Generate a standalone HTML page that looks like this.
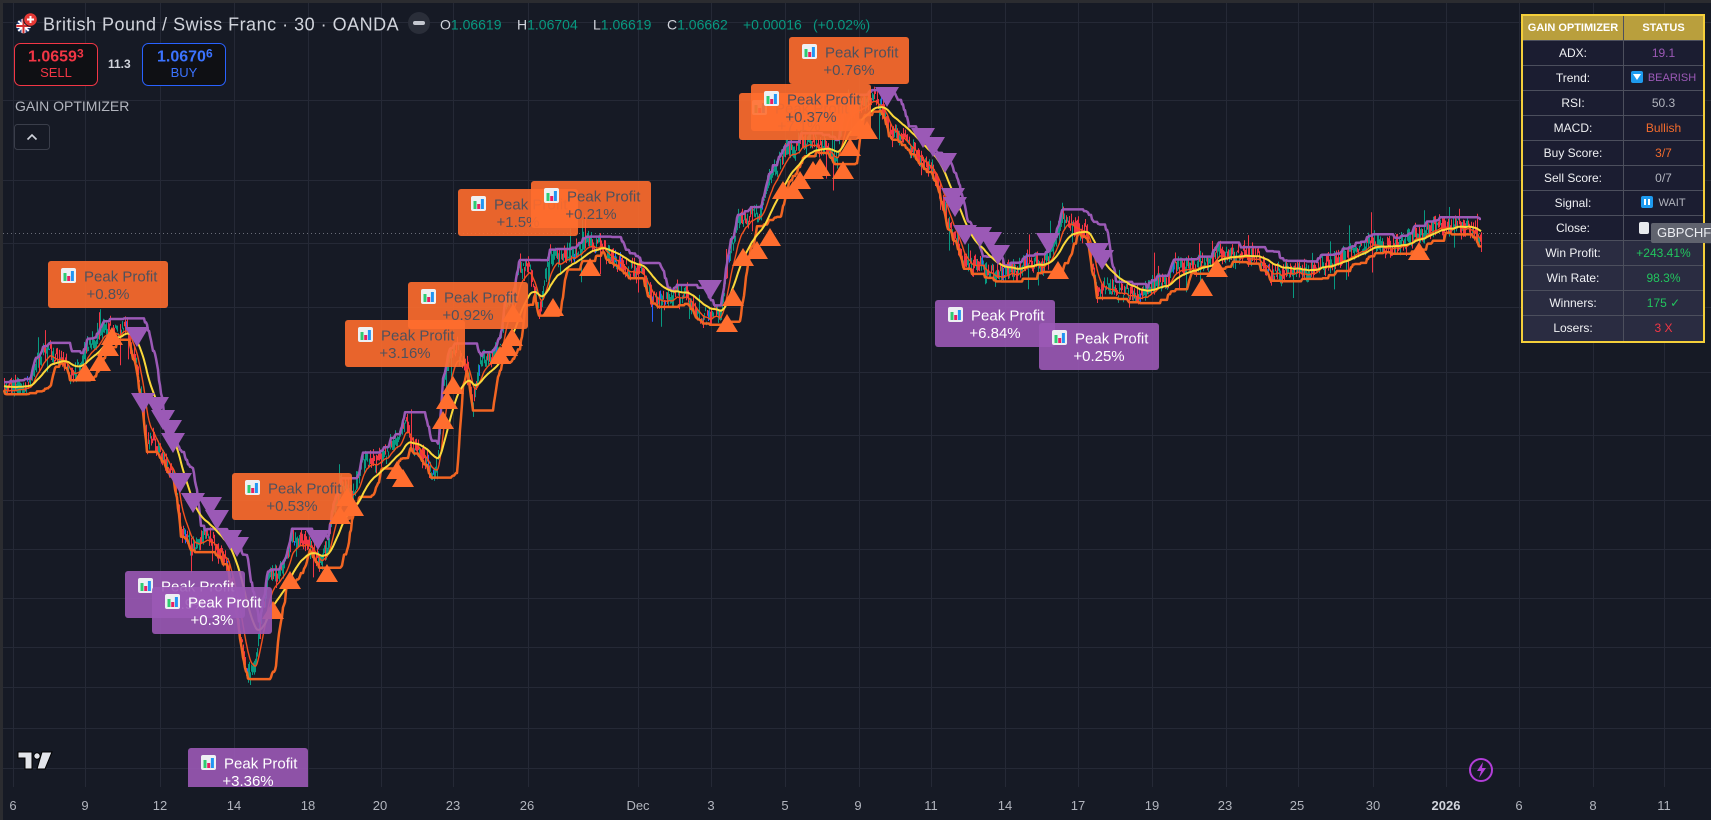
<!DOCTYPE html>
<html><head><meta charset="utf-8">
<style>
html,body{margin:0;padding:0;background:#161a25;width:1711px;height:820px;overflow:hidden;font-family:"Liberation Sans",Arial,sans-serif;}
svg{position:absolute;left:0;top:0}
#tb{position:absolute;left:1521px;top:14px;width:184px;height:329px;box-sizing:border-box;border:2px solid #f4cf3a;background:#1b1d31;overflow:hidden}
.c{position:absolute;height:25px;line-height:25px;text-align:center;font-size:12px;color:#f0f1f4;box-sizing:border-box;border-bottom:1px solid #4c4f5d;white-space:nowrap}
.l{left:0;width:101px;border-right:1px solid #4c4f5d}
.r{left:101px;width:79px}
.h{background:#b99f3d;color:#fff;font-weight:bold;font-size:11px}
.w{background:#2a2c41}
.ic{display:inline-block;width:12px;height:12px;border-radius:2px;background:#1e9bf0;vertical-align:-2px;margin-right:5px;position:relative}
#tag{position:absolute;left:1651px;top:223px;width:62px;height:20px;background:#60636e;border-radius:2px;color:#eceef2;font-size:13px;line-height:20px;padding-left:6px;box-sizing:border-box;white-space:nowrap;overflow:hidden}
</style></head>
<body>
<svg width="1711" height="820" viewBox="0 0 1711 820" font-family="Liberation Sans, Arial, sans-serif">
<defs>
<clipPath id="pane"><rect x="3" y="3" width="1708" height="784"/></clipPath>
<clipPath id="ukc"><circle cx="23.5" cy="26" r="7.3"/></clipPath>
<g id="ic">
<rect x="0" y="0" width="15" height="15" rx="2" fill="#eef0f3"/>
<rect x="2.5" y="5" width="3" height="8" fill="#2ecc71"/>
<rect x="6.2" y="8" width="3" height="5" fill="#e91e63"/>
<rect x="9.9" y="3" width="3" height="10" fill="#2196f3"/>
</g>
</defs>
<rect x="0" y="0" width="1711" height="820" fill="#161a25"/>
<g stroke="#252936" stroke-width="1">
<path d="M13.5 3V787M85.5 3V787M160.5 3V787M234.5 3V787M308.5 3V787M381.5 3V787M453.5 3V787M528.5 3V787M638.5 3V787M711.5 3V787M785.5 3V787M859.5 3V787M931.5 3V787M1005.5 3V787M1078.5 3V787M1152.5 3V787M1226.5 3V787M1298.5 3V787M1373.5 3V787M1446.5 3V787M1519.5 3V787M1593.5 3V787M1664.5 3V787"/>
<path d="M3 22.5H1711M3 100.5H1711M3 180.5H1711M3 243.5H1711M3 307.5H1711M3 372.5H1711M3 435.5H1711M3 500.5H1711M3 549.5H1711M3 598.5H1711M3 647.5H1711M3 687.5H1711M3 728.5H1711M3 768.5H1711"/>
</g>
<rect x="0" y="0" width="1711" height="3" fill="#2b2c30"/>
<rect x="0" y="0" width="3" height="820" fill="#2b2c30"/>
<line x1="3" y1="233.5" x2="1651" y2="233.5" stroke="#6a6d78" stroke-width="1" stroke-dasharray="1,3"/>
<g id="cd" clip-path="url(#pane)"></g>
<g id="tr" clip-path="url(#pane)"></g>
<g clip-path="url(#pane)" font-size="15">
<g transform="translate(48,261)"><rect width="120" height="47" rx="3" fill="#ff6d2e" fill-opacity=".9"/><use href="#ic" x="13" y="7"/><text x="36" y="20.5" fill="#4f515d">Peak Profit</text><text x="60" y="38" text-anchor="middle" fill="#4f515d">+0.8%</text></g>
<g transform="translate(345,320)"><rect width="120" height="47" rx="3" fill="#ff6d2e" fill-opacity=".9"/><use href="#ic" x="13" y="7"/><text x="36" y="20.5" fill="#4f515d">Peak Profit</text><text x="60" y="38" text-anchor="middle" fill="#4f515d">+3.16%</text></g>
<g transform="translate(408,282)"><rect width="120" height="47" rx="3" fill="#ff6d2e" fill-opacity=".9"/><use href="#ic" x="13" y="7"/><text x="36" y="20.5" fill="#4f515d">Peak Profit</text><text x="60" y="38" text-anchor="middle" fill="#4f515d">+0.92%</text></g>
<g transform="translate(458,189)"><rect width="120" height="47" rx="3" fill="#ff6d2e" fill-opacity=".9"/><use href="#ic" x="13" y="7"/><text x="36" y="20.5" fill="#4f515d">Peak Profit</text><text x="60" y="38" text-anchor="middle" fill="#4f515d">+1.5%</text></g>
<g transform="translate(531,181)"><rect width="120" height="47" rx="3" fill="#ff6d2e" fill-opacity=".9"/><use href="#ic" x="13" y="7"/><text x="36" y="20.5" fill="#4f515d">Peak Profit</text><text x="60" y="38" text-anchor="middle" fill="#4f515d">+0.21%</text></g>
<g transform="translate(739,93)"><rect width="120" height="47" rx="3" fill="#ff6d2e" fill-opacity=".9"/><use href="#ic" x="13" y="7"/><text x="36" y="20.5" fill="#4f515d">Peak Profit</text><text x="60" y="38" text-anchor="middle" fill="#4f515d">+7.1%</text></g>
<g transform="translate(751,84)"><rect width="120" height="47" rx="3" fill="#ff6d2e" fill-opacity=".9"/><use href="#ic" x="13" y="7"/><text x="36" y="20.5" fill="#4f515d">Peak Profit</text><text x="60" y="38" text-anchor="middle" fill="#4f515d">+0.37%</text></g>
<g transform="translate(789,37)"><rect width="120" height="47" rx="3" fill="#ff6d2e" fill-opacity=".9"/><use href="#ic" x="13" y="7"/><text x="36" y="20.5" fill="#4f515d">Peak Profit</text><text x="60" y="38" text-anchor="middle" fill="#4f515d">+0.76%</text></g>
<g transform="translate(232,473)"><rect width="120" height="47" rx="3" fill="#ff6d2e" fill-opacity=".9"/><use href="#ic" x="13" y="7"/><text x="36" y="20.5" fill="#4f515d">Peak Profit</text><text x="60" y="38" text-anchor="middle" fill="#4f515d">+0.53%</text></g>
<g transform="translate(125,571)"><rect width="120" height="47" rx="3" fill="#9b59b6" fill-opacity=".9"/><use href="#ic" x="13" y="7"/><text x="36" y="20.5" fill="#fff">Peak Profit</text><text x="60" y="38" text-anchor="middle" fill="#fff">+0.9%</text></g>
<g transform="translate(152,587)"><rect width="120" height="47" rx="3" fill="#9b59b6" fill-opacity=".9"/><use href="#ic" x="13" y="7"/><text x="36" y="20.5" fill="#fff">Peak Profit</text><text x="60" y="38" text-anchor="middle" fill="#fff">+0.3%</text></g>
<g transform="translate(188,748)"><rect width="120" height="47" rx="3" fill="#9b59b6" fill-opacity=".9"/><use href="#ic" x="13" y="7"/><text x="36" y="20.5" fill="#fff">Peak Profit</text><text x="60" y="38" text-anchor="middle" fill="#fff">+3.36%</text></g>
<g transform="translate(935,300)"><rect width="120" height="47" rx="3" fill="#9b59b6" fill-opacity=".9"/><use href="#ic" x="13" y="7"/><text x="36" y="20.5" fill="#fff">Peak Profit</text><text x="60" y="38" text-anchor="middle" fill="#fff">+6.84%</text></g>
<g transform="translate(1039,323)"><rect width="120" height="47" rx="3" fill="#9b59b6" fill-opacity=".9"/><use href="#ic" x="13" y="7"/><text x="36" y="20.5" fill="#fff">Peak Profit</text><text x="60" y="38" text-anchor="middle" fill="#fff">+0.25%</text></g>
</g>
<g clip-path="url(#ukc)">
<circle cx="23.5" cy="26" r="7.3" fill="#25407f"/>
<path d="M14 17L33 35M33 17L14 35" stroke="#fff" stroke-width="2"/>
<path d="M23.5 17V35M14 26H33" stroke="#fff" stroke-width="4"/>
<path d="M23.5 17V35M14 26H33" stroke="#d32f2f" stroke-width="2"/>
</g>
<circle cx="30.5" cy="19.5" r="6.8" fill="#e53935" stroke="#161a25" stroke-width="1"/>
<path d="M30.5 16V23M27 19.5H34" stroke="#fff" stroke-width="2"/>
<text x="43" y="30.7" font-size="18" letter-spacing="0.5" fill="#d1d4dc">British Pound / Swiss Franc · 30 · OANDA</text>
<circle cx="419" cy="23" r="11" fill="#2a2e39"/>
<rect x="413" y="21" width="12" height="4" rx="2" fill="#c5c8d0"/>
<g font-size="14">
<text x="440" y="29.3" fill="#d1d4dc">O<tspan fill="#089981">1.06619</tspan></text>
<text x="517" y="29.3" fill="#d1d4dc">H<tspan fill="#089981">1.06704</tspan></text>
<text x="593" y="29.3" fill="#d1d4dc">L<tspan fill="#089981">1.06619</tspan></text>
<text x="667" y="29.3" fill="#d1d4dc">C<tspan fill="#089981">1.06662</tspan></text>
<text x="743" y="29.3" fill="#089981">+0.00016</text>
<text x="813" y="29.3" fill="#089981">(+0.02%)</text>
</g>
<rect x="14.5" y="43.5" width="83" height="42" rx="6" fill="#0f1014" stroke="#f23645"/>
<text x="28" y="61.5" font-size="16" font-weight="bold" fill="#f23645">1.0659<tspan font-size="12" dy="-4">3</tspan></text>
<text x="56" y="77" font-size="13" text-anchor="middle" fill="#f23645">SELL</text>
<text x="108" y="68" font-size="12" font-weight="bold" fill="#d1d4dc">11.3</text>
<rect x="142.5" y="43.5" width="83" height="42" rx="6" fill="#0f1014" stroke="#2962ff"/>
<text x="157" y="61.5" font-size="16" font-weight="bold" fill="#3b73ff">1.0670<tspan font-size="12" dy="-4">6</tspan></text>
<text x="184" y="77" font-size="13" text-anchor="middle" fill="#3b73ff">BUY</text>
<text x="15" y="111" font-size="14" fill="#b2b5be">GAIN OPTIMIZER</text>
<rect x="14.5" y="124.5" width="35" height="25" rx="3" fill="none" stroke="#3a3e4a"/>
<polyline points="27.5,139.5 32,135 36.5,139.5" fill="none" stroke="#d1d4dc" stroke-width="1.6"/>
<g fill="#e3e5ea" stroke="#000" stroke-width="1">
<path d="M18 752H32V769H25V758H18Z"/>
<circle cx="37" cy="756" r="3.2"/>
<path d="M42 752H52L45 769H37Z"/>
</g>
<circle cx="1481" cy="770" r="11" fill="none" stroke="#b23ed8" stroke-width="2"/>
<path d="M1483 762L1477 771H1481L1479 778L1486 768H1482Z" fill="#b23ed8"/>
<g font-size="13" fill="#b2b5be" text-anchor="middle">
<text x="13" y="810">6</text><text x="85" y="810">9</text><text x="160" y="810">12</text><text x="234" y="810">14</text><text x="308" y="810">18</text><text x="380" y="810">20</text><text x="453" y="810">23</text><text x="527" y="810">26</text><text x="638" y="810">Dec</text><text x="711" y="810">3</text><text x="785" y="810">5</text><text x="858" y="810">9</text><text x="931" y="810">11</text><text x="1005" y="810">14</text><text x="1078" y="810">17</text><text x="1152" y="810">19</text><text x="1225" y="810">23</text><text x="1297" y="810">25</text><text x="1373" y="810">30</text><text x="1446" y="810" font-weight="bold" fill="#d1d4dc">2026</text><text x="1519" y="810">6</text><text x="1593" y="810">8</text><text x="1664" y="810">11</text>
</g>
</svg>

<div id="tb">
<div class="c l h" style="top:0">GAIN OPTIMIZER</div><div class="c r h" style="top:0">STATUS</div>
<div class="c l" style="top:25px">ADX:</div><div class="c r" style="top:25px;color:#9b59b6">19.1</div>
<div class="c l" style="top:50px">Trend:</div><div class="c r" style="top:50px;color:#9b59b6;font-size:11px"><span class="ic"><span style="position:absolute;left:2px;top:3px;width:0;height:0;border-left:4px solid transparent;border-right:4px solid transparent;border-top:6px solid #fff"></span></span>BEARISH</div>
<div class="c l" style="top:75px">RSI:</div><div class="c r" style="top:75px;color:#b2b5be">50.3</div>
<div class="c l" style="top:100px">MACD:</div><div class="c r" style="top:100px;color:#f26b2d">Bullish</div>
<div class="c l" style="top:125px">Buy Score:</div><div class="c r" style="top:125px;color:#f26b2d">3/7</div>
<div class="c l" style="top:150px">Sell Score:</div><div class="c r" style="top:150px;color:#b2b5be">0/7</div>
<div class="c l" style="top:175px">Signal:</div><div class="c r" style="top:175px;color:#b2b5be;font-size:11px"><span class="ic"><span style="position:absolute;left:3px;top:3px;width:2px;height:6px;background:#fff"></span><span style="position:absolute;left:7px;top:3px;width:2px;height:6px;background:#fff"></span></span>WAIT</div>
<div class="c l" style="top:200px">Close:</div><div class="c r" style="top:200px"><span style="display:inline-block;width:10px;height:12px;background:#e8eaee;border-radius:2px;vertical-align:-2px;margin-right:40px"></span></div>
<div class="c l w" style="top:225px">Win Profit:</div><div class="c r w" style="top:225px;color:#22c55e">+243.41%</div>
<div class="c l w" style="top:250px">Win Rate:</div><div class="c r w" style="top:250px;color:#22c55e">98.3%</div>
<div class="c l w" style="top:275px">Winners:</div><div class="c r w" style="top:275px;color:#22c55e">175 ✓</div>
<div class="c l w" style="top:300px;border-bottom:none">Losers:</div><div class="c r w" style="top:300px;color:#f23645;border-bottom:none">3 X</div>
</div>
<div id="tag">GBPCHF</div>

<script>
(function(){
var K=[[4,385],[17,383],[27,387],[33,372],[43,357],[53,355],[63,350],[70,378],[77,370],[83,350],[93,338],[103,324],[113,325],[123,323],[130,336],[135,350],[139,385],[143,410],[147,443],[153,438],[163,452],[173,470],[177,500],[181,535],[187,540],[197,536],[207,536],[217,548],[227,560],[235,600],[241,638],[248,668],[255,672],[260,628],[267,582],[277,573],[287,563],[292,528],[300,540],[310,547],[320,566],[327,543],[333,508],[343,483],[353,486],[363,457],[373,462],[383,463],[390,450],[400,437],[405,415],[410,432],[417,445],[430,463],[437,470],[443,385],[450,355],[460,358],[467,360],[473,398],[483,355],[500,347],[507,298],[513,292],[520,262],[530,277],[540,306],[550,246],[560,263],[573,256],[587,240],[600,247],[613,260],[627,266],[640,275],[653,306],[667,293],[687,295],[703,315],[720,313],[727,270],[737,220],[747,220],[760,207],[773,167],[780,160],[800,137],[807,138],[823,146],[837,157],[843,120],[848,100],[860,102],[873,90],[883,110],[890,133],[900,137],[913,150],[927,170],[940,190],[953,237],[963,258],[980,270],[997,280],[1010,272],[1020,265],[1047,257],[1062,222],[1075,225],[1087,237],[1097,290],[1113,288],[1133,296],[1153,285],[1180,273],[1200,262],[1220,247],[1240,252],[1263,266],[1280,275],[1313,260],[1347,257],[1363,247],[1393,246],[1420,235],[1435,222],[1451,229],[1468,226],[1481,232]];
function L(x){for(var i=0;i<K.length-1;i++){if(x<=K[i+1][0]){var a=K[i],b=K[i+1];return a[1]+(b[1]-a[1])*(x-a[0])/(b[0]-a[0]);}}return K[K.length-1][1];}
var s=123456789;
function R(){s^=s<<13;s^=s>>>17;s^=s<<5;return (s>>>0)/4294967296;}
var B=[],n=0,x;
for(x=4;x<=1481;x++){
 n=n*0.84+(R()-0.5)*8;
 var b=L(x)+n;
 var o=b+(R()-0.5)*13,c=b+(R()-0.5)*13;
 var hi=Math.min(o,c)-R()*6,lo=Math.max(o,c)+R()*6;
 var r=R(); if(r<0.035)hi-=6+R()*20; else if(r<0.07)lo+=6+R()*20;
 var sl=L(x+8)-L(x-8); var pg=0.52-Math.max(-0.33,Math.min(0.33,sl*0.015));
 var col=R()<pg?0:1; if(R()<0.025)col=2;
 B.push([x,hi,lo,col,b]);
}
var P=['','',''];
B.forEach(function(q){P[q[3]]+='M'+(q[0]+0.5)+' '+q[1].toFixed(1)+'V'+q[2].toFixed(1);});
function path(a){var t='';for(var i=0;i<a.length;i++){t+=(i?'L':'M')+a[i][0]+' '+a[i][1].toFixed(1);}return t;}
var ye=[],fo=[],up=[],dn=[],e=B[0][4],f=B[0][4];
for(var i=0;i<B.length;i++){
 e+=(B[i][4]-e)*0.055; f+=(B[i][4]-f)*0.16;
 ye.push([B[i][0],e]); fo.push([B[i][0],f+3]);
 var mx=-1e9,mn=1e9;
 for(var j=Math.max(0,i-20);j<=i;j++){if(B[j][4]+4>mx)mx=B[j][4]+4;if(B[j][4]-4<mn)mn=B[j][4]-4;}
 dn.push([B[i][0],mx]); up.push([B[i][0],mn]);
}
var h='';
h+='<path d="'+P[0]+'" stroke="#089981" stroke-width="1" fill="none"/>';
h+='<path d="'+P[1]+'" stroke="#f23645" stroke-width="1" fill="none"/>';
h+='<path d="'+P[2]+'" stroke="#2962ff" stroke-width="1" fill="none"/>';
h+='<path d="'+path(dn)+'" stroke="#f26522" stroke-width="2.5" fill="none" stroke-linejoin="round"/>';
h+='<path d="'+path(up)+'" stroke="#9b59b6" stroke-width="2.5" fill="none" stroke-linejoin="round"/>';
h+='<path d="'+path(fo)+'" stroke="#f4511e" stroke-width="1.4" fill="none"/>';
h+='<path d="'+path(ye)+'" stroke="#fbd83a" stroke-width="2" fill="none"/>';
document.getElementById('cd').innerHTML=h;
var U=[[85,372],[100,362],[108,347],[112,336],[273,610],[290,580],[327,573],[340,515],[347,497],[353,507],[397,470],[403,478],[443,420],[447,400],[453,385],[500,355],[507,347],[512,337],[513,313],[553,307],[590,267],[727,323],[733,297],[743,257],[757,250],[770,237],[783,190],[793,190],[800,180],[813,170],[820,167],[843,170],[850,147],[860,127],[867,130],[1058,270],[1202,287],[1217,268],[1419,251]];
var D=[[137,337],[143,403],[157,407],[163,420],[170,430],[173,443],[180,483],[193,503],[210,507],[217,520],[230,540],[237,547],[318,540],[710,290],[887,97],[923,138],[933,147],[945,163],[953,198],[955,207],[965,235],[980,237],[990,242],[998,255],[1048,243],[1097,253],[1102,260]];
var t='';
U.forEach(function(p){t+='<polygon points="'+(p[0]-11)+','+(p[1]+9)+' '+(p[0]+11)+','+(p[1]+9)+' '+p[0]+','+(p[1]-9)+'" fill="#ff6d2e"/>';});
D.forEach(function(p){t+='<polygon points="'+(p[0]-12)+','+(p[1]-10)+' '+(p[0]+12)+','+(p[1]-10)+' '+p[0]+','+(p[1]+10)+'" fill="#9b59b6"/>';});
document.getElementById('tr').innerHTML=t;
})();
</script>
</body></html>
